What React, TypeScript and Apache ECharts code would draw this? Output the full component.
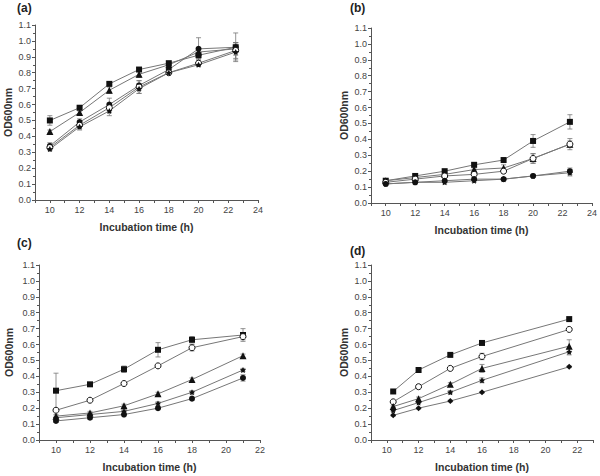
import React, { useEffect, useRef } from "react";
import * as echarts from "echarts";

// ---- data ----
const xA = [10, 12, 14, 16, 18, 20, 22.5];
const aSquare = [0.5, 0.58, 0.73, 0.82, 0.86, 0.91, 0.96];
const aSquareErr = [0.03, 0.01, 0.01, 0.01, 0.01, 0.02, 0.03];
const aTri = [0.43, 0.55, 0.69, 0.79, 0.85, 0.93, 0.95];
const aTriErr = [0.01, 0.01, 0.02, 0.02, 0.01, 0.03, 0.04];
const aCirc = [0.34, 0.49, 0.6, 0.72, 0.82, 0.95, 0.96];
const aCircErr = [0.02, 0.02, 0.04, 0.03, 0.02, 0.07, 0.09];
const aOpen = [0.33, 0.47, 0.58, 0.71, 0.8, 0.86, 0.94];
const aOpenErr = [0.01, 0.02, 0.03, 0.04, 0.01, 0.02, 0.05];
const aStar = [0.32, 0.46, 0.56, 0.7, 0.8, 0.85, 0.93];
const aStarErr = [0.01, 0.02, 0.03, 0.03, 0.01, 0.01, 0.05];

const xB = [10, 12, 14, 16, 18, 20, 22.5];
const bSquare = [0.14, 0.17, 0.2, 0.24, 0.27, 0.39, 0.51];
const bSquareErr = [0.01, 0.01, 0.01, 0.01, 0.01, 0.04, 0.045];
const bTri = [0.14, 0.16, 0.18, 0.21, 0.22, 0.28, 0.37];
const bTriErr = [0.01, 0.01, 0.01, 0.01, 0.02, 0.03, 0.035];
const bOpen = [0.13, 0.15, 0.17, 0.18, 0.2, 0.28, 0.37];
const bOpenErr = [0.01, 0.01, 0.01, 0.01, 0.01, 0.03, 0.02];
const bCirc = [0.12, 0.13, 0.14, 0.15, 0.15, 0.17, 0.2];
const bCircErr = [0.01, 0.01, 0.01, 0.01, 0.01, 0.01, 0.02];
const bStar = [0.12, 0.13, 0.13, 0.14, 0.15, 0.17, 0.19];
const bStarErr = [0.01, 0.01, 0.01, 0.01, 0.01, 0.01, 0.02];

const xC = [10, 12, 14, 16, 18, 21];
const cSquare = [0.31, 0.35, 0.445, 0.567, 0.63, 0.66];
const cSquareErr = [0.11, 0.01, 0.02, 0.045, 0.02, 0.04];
const cOpen = [0.187, 0.25, 0.355, 0.466, 0.58, 0.65];
const cOpenErr = [0.01, 0.01, 0.01, 0.01, 0.02, 0.02];
const cTri = [0.15, 0.17, 0.215, 0.29, 0.38, 0.53];
const cTriErr = [0.01, 0.01, 0.01, 0.01, 0.01, 0.01];
const cStar = [0.14, 0.16, 0.18, 0.23, 0.3, 0.44];
const cStarErr = [0.01, 0.01, 0.01, 0.01, 0.01, 0.01];
const cCirc = [0.12, 0.14, 0.16, 0.2, 0.26, 0.39];
const cCircErr = [0.01, 0.01, 0.01, 0.01, 0.01, 0.02];

const xD = [10.4, 12, 14, 16, 21.5];
const dSquare = [0.305, 0.44, 0.535, 0.61, 0.76];
const dSquareErr = [0.005, 0.005, 0.01, 0.005, 0.005];
const dOpen = [0.24, 0.335, 0.45, 0.525, 0.695];
const dOpenErr = [0.005, 0.005, 0.005, 0.02, 0.005];
const dTri = [0.21, 0.26, 0.35, 0.45, 0.59];
const dTriErr = [0.005, 0.01, 0.01, 0.025, 0.04];
const dStar = [0.185, 0.235, 0.3, 0.375, 0.555];
const dStarErr = [0.005, 0.005, 0.01, 0.015, 0.02];
const dDiamond = [0.155, 0.2, 0.245, 0.3, 0.46];
const dDiamondErr = [0.005, 0.005, 0.005, 0.005, 0.005];

const panelTitles = ["(a)", "(b)", "(c)", "(d)"];
const xName = "Incubation time (h)";
const yName = "OD600nm";

const STAR = "path://M0,-10 L3.2,-4 L9.5,-3.1 L5,1.8 L5.9,8.1 L0,5.2 L-5.9,8.1 L-5,1.8 L-9.5,-3.1 L-3.2,-4 Z";

type S = { sym: string; open?: boolean; y: number[]; e: number[] };

const panels: { x: number[]; s: S[]; xMax: number }[] = [
  {
    x: xA,
    xMax: 24,
    s: [
      { sym: "rect", y: aSquare, e: aSquareErr },
      { sym: "triangle", y: aTri, e: aTriErr },
      { sym: "circle", y: aCirc, e: aCircErr },
      { sym: "circle", open: true, y: aOpen, e: aOpenErr },
      { sym: STAR, y: aStar, e: aStarErr },
    ],
  },
  {
    x: xB,
    xMax: 24,
    s: [
      { sym: "rect", y: bSquare, e: bSquareErr },
      { sym: "triangle", y: bTri, e: bTriErr },
      { sym: "circle", open: true, y: bOpen, e: bOpenErr },
      { sym: "circle", y: bCirc, e: bCircErr },
      { sym: STAR, y: bStar, e: bStarErr },
    ],
  },
  {
    x: xC,
    xMax: 22,
    s: [
      { sym: "rect", y: cSquare, e: cSquareErr },
      { sym: "circle", open: true, y: cOpen, e: cOpenErr },
      { sym: "triangle", y: cTri, e: cTriErr },
      { sym: STAR, y: cStar, e: cStarErr },
      { sym: "circle", y: cCirc, e: cCircErr },
    ],
  },
  {
    x: xD,
    xMax: 23,
    s: [
      { sym: "rect", y: dSquare, e: dSquareErr },
      { sym: "circle", open: true, y: dOpen, e: dOpenErr },
      { sym: "triangle", y: dTri, e: dTriErr },
      { sym: STAR, y: dStar, e: dStarErr },
      { sym: "diamond", y: dDiamond, e: dDiamondErr },
    ],
  },
];

const grids = [
  { left: 35, top: 25, width: 223, height: 175 },
  { left: 371, top: 28, width: 222, height: 175 },
  { left: 39, top: 265, width: 221, height: 175 },
  { left: 371, top: 265, width: 222, height: 175 },
];
const yNameGaps = [22, 22, 25, 22];
const titlePos = [
  [17, 2],
  [350, 2],
  [17, 237],
  [350, 245],
];

const FONT = "'Liberation Sans', Arial, sans-serif";
const AX = "#555";

export default function App() {
  const ref = useRef<HTMLDivElement>(null);
  useEffect(() => {
    if (!ref.current) return;
    const chart = echarts.init(ref.current, undefined, { renderer: "svg" });
    const xAxis: any[] = [];
    const yAxis: any[] = [];
    const series: any[] = [];
    panels.forEach((p, i) => {
      xAxis.push({
        type: "value",
        gridIndex: i,
        min: 9,
        max: p.xMax,
        interval: 1,
        name: xName,
        nameLocation: "middle",
        nameGap: 21,
        nameTextStyle: { fontFamily: FONT, fontSize: 10.5, fontWeight: "bold", color: "#333" },
        axisLine: { lineStyle: { color: AX, width: 1 } },
        axisTick: { show: true, length: 3, lineStyle: { color: AX } },
        axisLabel: {
          fontFamily: FONT,
          fontSize: 9,
          color: "#444",
          margin: 5,
          showMinLabel: true,
          showMaxLabel: true,
          formatter: (v: number) => (v % 2 === 0 ? String(v) : ""),
        },
        splitLine: { show: false },
      });
      yAxis.push({
        type: "value",
        gridIndex: i,
        min: 0,
        max: 1.1,
        interval: 0.1,
        name: yName,
        nameLocation: "middle",
        nameGap: yNameGaps[i],
        nameTextStyle: { fontFamily: FONT, fontSize: 10.5, fontWeight: "bold", color: "#333" },
        axisLine: { show: true, lineStyle: { color: AX, width: 1 } },
        axisTick: { show: true, length: 3, lineStyle: { color: AX } },
        minorTick: { show: true, splitNumber: 2, length: 2, lineStyle: { color: AX } },
        axisLabel: {
          fontFamily: FONT,
          fontSize: 9,
          color: "#444",
          margin: 4,
          formatter: (v: number) => v.toFixed(1),
        },
        splitLine: { show: false },
      });
      p.s.forEach((s) => {
        series.push({
          type: "custom",
          xAxisIndex: i,
          yAxisIndex: i,
          silent: true,
          z: 1,
          encode: { x: 0, y: [1, 2] },
          data: p.x.map((x, k) => [x, s.y[k] - s.e[k], s.y[k] + s.e[k]]),
          renderItem: (params: any, api: any) => {
            const x = api.value(0);
            const p1 = api.coord([x, api.value(2)]);
            const p2 = api.coord([x, api.value(1)]);
            const w = 2.5;
            const st = { stroke: "#777", lineWidth: 0.8 };
            return {
              type: "group",
              children: [
                { type: "line", shape: { x1: p1[0], y1: p1[1], x2: p2[0], y2: p2[1] }, style: st },
                { type: "line", shape: { x1: p1[0] - w, y1: p1[1], x2: p1[0] + w, y2: p1[1] }, style: st },
                { type: "line", shape: { x1: p2[0] - w, y1: p2[1], x2: p2[0] + w, y2: p2[1] }, style: st },
              ],
            };
          },
        });
        series.push({
          type: "line",
          xAxisIndex: i,
          yAxisIndex: i,
          z: 2,
          data: p.x.map((x, k) => [x, s.y[k]]),
          symbol: s.sym,
          symbolSize: s.sym === "triangle" ? 7 : 6,
          showAllSymbol: true,
          lineStyle: { color: "#777", width: 1 },
          itemStyle: {
            color: s.open ? "#fff" : "#111",
            borderColor: "#111",
            borderWidth: s.open ? 1 : 0,
          },
        });
      });
    });
    chart.setOption({
      animation: false,
      backgroundColor: "#fff",
      grid: grids.map((g) => ({ ...g, containLabel: false })),
      xAxis,
      yAxis,
      series,
      graphic: panelTitles.map((t, i) => ({
        type: "text",
        left: titlePos[i][0],
        top: titlePos[i][1],
        style: { text: t, fontFamily: FONT, fontSize: 12, fontWeight: "bold", fill: "#222" },
      })),
    });
    return () => chart.dispose();
  }, []);
  return (
    <div
      ref={ref}
      style={{ position: "absolute", left: 0, top: 0, width: 600, height: 476 }}
    />
  );
}
